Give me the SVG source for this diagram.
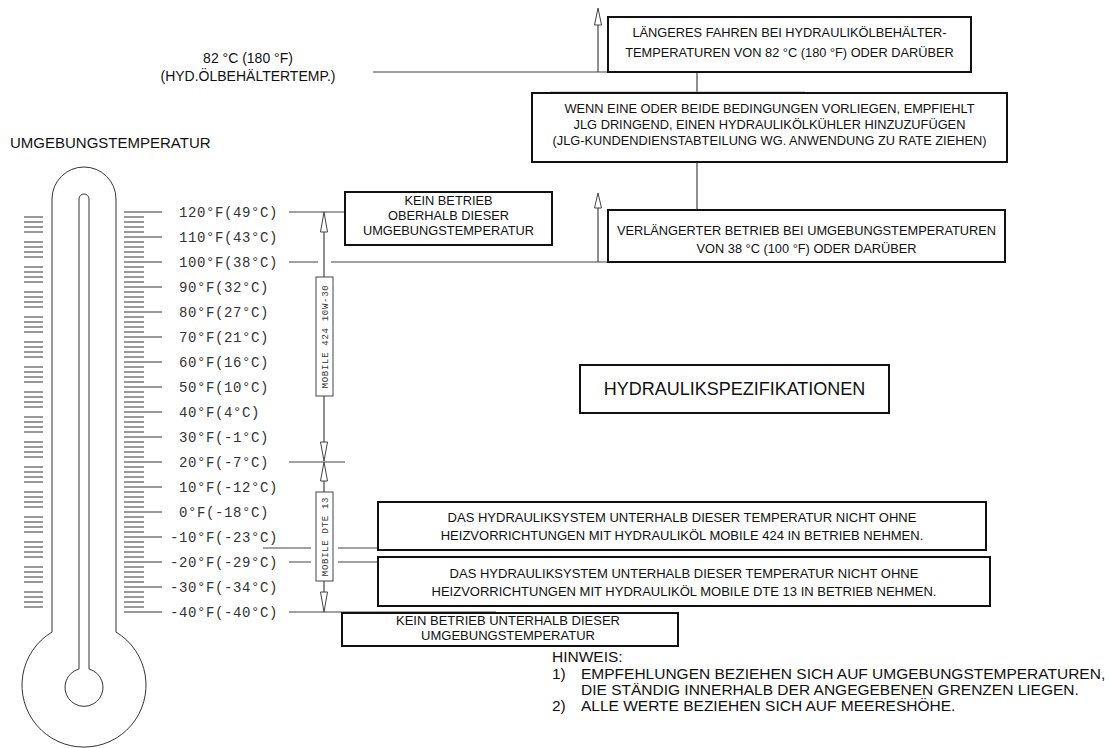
<svg xmlns="http://www.w3.org/2000/svg" xmlns:xlink="http://www.w3.org/1999/xlink" width="1111" height="748" viewBox="0 0 1111 748">
<style>
.box{fill:#fff;stroke:#111;stroke-width:2}
.mbox{fill:#fff;stroke:#444;stroke-width:1}
.ln{stroke:#444;stroke-width:1.2;fill:none}
.th{stroke:#333;stroke-width:1;fill:none}
.arr{fill:#fff;stroke:#444;stroke-width:1}
.t{font-family:"Liberation Sans",Arial,sans-serif;fill:#111}
.bt{font-size:12.8px;text-anchor:middle}
.bb{font-size:13px;text-anchor:middle}
.sc{font-family:"Liberation Mono","DejaVu Sans Mono",monospace;font-size:14px;letter-spacing:0.6px;fill:#333}
.mb{font-family:"Liberation Mono","DejaVu Sans Mono",monospace;font-size:9px;letter-spacing:0.7px;fill:#333;text-anchor:middle}
</style>
<defs>
<path id="minor" d="M124 5h20M124 10h20M124 15h20M124 20h20M24 5h19M24 10h19M24 15h19M24 20h19"/>
</defs>
<rect width="1111" height="748" fill="#fff"/>

<g id="thermometer" class="th">
<path d="M52 632V199A32 32 0 0 1 116 199V632A62 62 0 1 1 52 632Z"/>
<path d="M79 669V199A5 5 0 0 1 89 199V669A19 19 0 1 1 79 669Z"/>
<path d="M124 212h38M124 237h38M124 262h38M124 287h38M124 312h38M124 337h38M124 362h38M124 387h38M124 412h38M124 437h38M124 462h38M124 487h38M124 512h38M124 537h38M124 562h38M124 587h38M124 612h38"/>
<use xlink:href="#minor" y="212"/><use xlink:href="#minor" y="237"/><use xlink:href="#minor" y="262"/><use xlink:href="#minor" y="287"/>
<use xlink:href="#minor" y="312"/><use xlink:href="#minor" y="337"/><use xlink:href="#minor" y="362"/><use xlink:href="#minor" y="387"/>
<use xlink:href="#minor" y="412"/><use xlink:href="#minor" y="437"/><use xlink:href="#minor" y="462"/><use xlink:href="#minor" y="487"/>
<use xlink:href="#minor" y="512"/><use xlink:href="#minor" y="537"/><use xlink:href="#minor" y="562"/><use xlink:href="#minor" y="587"/>
</g>

<g id="scale-labels" class="sc">
<text x="179" y="217">120°F(49°C)</text>
<text x="179" y="242">110°F(43°C)</text>
<text x="179" y="267">100°F(38°C)</text>
<text x="179" y="292">90°F(32°C)</text>
<text x="179" y="317">80°F(27°C)</text>
<text x="179" y="342">70°F(21°C)</text>
<text x="179" y="367">60°F(16°C)</text>
<text x="179" y="392">50°F(10°C)</text>
<text x="179" y="417">40°F(4°C)</text>
<text x="179" y="442">30°F(-1°C)</text>
<text x="179" y="467">20°F(-7°C)</text>
<text x="179" y="492">10°F(-12°C)</text>
<text x="179" y="517">0°F(-18°C)</text>
<text x="170" y="542">-10°F(-23°C)</text>
<text x="170" y="567">-20°F(-29°C)</text>
<text x="170" y="592">-30°F(-34°C)</text>
<text x="170" y="617">-40°F(-40°C)</text>
</g>

<g id="connectors" class="ln">
<path d="M373 72H608"/>
<path d="M697 72V93M697 162V210"/>
<path d="M550 92H805" stroke="#aaa"/>
<path d="M598 25V72M598 208V262"/>
<path d="M289 212H345"/>
<path d="M289 262H318M331 262H608"/>
<path d="M289 462H345"/>
<path d="M263 548H311M338 548H378"/>
<path d="M289 562H311M338 562H378"/>
<path d="M289 612H496"/>
<path d="M324 232V277M324 396V442M324 481V492M324 581V592"/>
<polygon class="arr" points="598,8 594.5,25 601.5,25"/>
<polygon class="arr" points="598,193 594.5,208 601.5,208"/>
<polygon class="arr" points="324,212 320.5,232 327.5,232"/>
<polygon class="arr" points="320.5,442 327.5,442 324,461"/>
<polygon class="arr" points="324,462 320.5,481 327.5,481"/>
<polygon class="arr" points="320.5,592 327.5,592 324,612"/>
</g>

<g id="label-82c" class="t" font-size="14" text-anchor="middle">
<text x="248" y="63">82 °C (180 °F)</text>
<text x="248" y="81">(HYD.ÖLBEHÄLTERTEMP.)</text>
</g>

<g id="label-umgebung" class="t" font-size="15">
<text x="10" y="148">UMGEBUNGSTEMPERATUR</text>
</g>

<g id="box-laengeres">
<rect class="box" x="608" y="17" width="363" height="55"/>
<text class="t bt" x="789.5" y="37">LÄNGERES FAHREN BEI HYDRAULIKÖLBEHÄLTER-</text>
<text class="t bt" x="789.5" y="57">TEMPERATUREN VON 82 °C (180 °F) ODER DARÜBER</text>
</g>

<g id="box-wenn">
<rect class="box" x="532" y="93" width="475" height="69"/>
<text class="t bt" x="769.5" y="113">WENN EINE ODER BEIDE BEDINGUNGEN VORLIEGEN, EMPFIEHLT</text>
<text class="t bt" x="769.5" y="129">JLG DRINGEND, EINEN HYDRAULIKÖLKÜHLER HINZUZUFÜGEN</text>
<text class="t bt" x="769.5" y="145">(JLG-KUNDENDIENSTABTEILUNG WG. ANWENDUNG ZU RATE ZIEHEN)</text>
</g>

<g id="box-verlaengerter">
<rect class="box" x="608" y="210" width="397" height="52"/>
<text class="t bt" x="806.5" y="234.5">VERLÄNGERTER BETRIEB BEI UMGEBUNGSTEMPERATUREN</text>
<text class="t bt" x="806.5" y="252.5">VON 38 °C (100 °F) ODER DARÜBER</text>
</g>

<g id="box-kein-oberhalb">
<rect class="box" x="345" y="192" width="207" height="53"/>
<text class="t bt" x="448.5" y="205">KEIN BETRIEB</text>
<text class="t bt" x="448.5" y="220">OBERHALB DIESER</text>
<text class="t bt" x="448.5" y="235">UMGEBUNGSTEMPERATUR</text>
</g>

<g id="box-mobile424">
<rect class="mbox" x="316" y="277" width="17" height="119"/>
<text class="mb" transform="translate(327.5,336.5) rotate(-90)">MOBILE 424 10W-30</text>
</g>

<g id="box-mobiledte13">
<rect class="mbox" x="316" y="492" width="17" height="89"/>
<text class="mb" transform="translate(327.5,536.5) rotate(-90)">MOBILE DTE 13</text>
</g>

<g id="box-title">
<rect class="box" x="580" y="365" width="309" height="48"/>
<text class="t" x="734.5" y="395" font-size="18" text-anchor="middle">HYDRAULIKSPEZIFIKATIONEN</text>
</g>

<g id="box-mobile424-warn">
<rect class="box" x="378" y="502" width="608" height="48"/>
<text class="t bb" x="682" y="522">DAS HYDRAULIKSYSTEM UNTERHALB DIESER TEMPERATUR NICHT OHNE</text>
<text class="t bb" x="682" y="540">HEIZVORRICHTUNGEN MIT HYDRAULIKÖL MOBILE 424 IN BETRIEB NEHMEN.</text>
</g>

<g id="box-dte13-warn">
<rect class="box" x="378" y="557" width="612" height="49"/>
<text class="t bb" x="684" y="578">DAS HYDRAULIKSYSTEM UNTERHALB DIESER TEMPERATUR NICHT OHNE</text>
<text class="t bb" x="684" y="596">HEIZVORRICHTUNGEN MIT HYDRAULIKÖL MOBILE DTE 13 IN BETRIEB NEHMEN.</text>
</g>

<g id="box-kein-unterhalb">
<rect class="box" x="342" y="613" width="336" height="33"/>
<text class="t bb" x="508" y="624.5">KEIN BETRIEB UNTERHALB DIESER</text>
<text class="t bb" x="508" y="639.5">UMGEBUNGSTEMPERATUR</text>
</g>

<g id="notes" class="t" font-size="15.5">
<text x="552" y="662">HINWEIS:</text>
<text x="552" y="679">1)</text>
<text x="581" y="679">EMPFEHLUNGEN BEZIEHEN SICH AUF UMGEBUNGSTEMPERATUREN,</text>
<text x="581" y="695">DIE STÄNDIG INNERHALB DER ANGEGEBENEN GRENZEN LIEGEN.</text>
<text x="552" y="711">2)</text>
<text x="581" y="711">ALLE WERTE BEZIEHEN SICH AUF MEERESHÖHE.</text>
</g>
</svg>
